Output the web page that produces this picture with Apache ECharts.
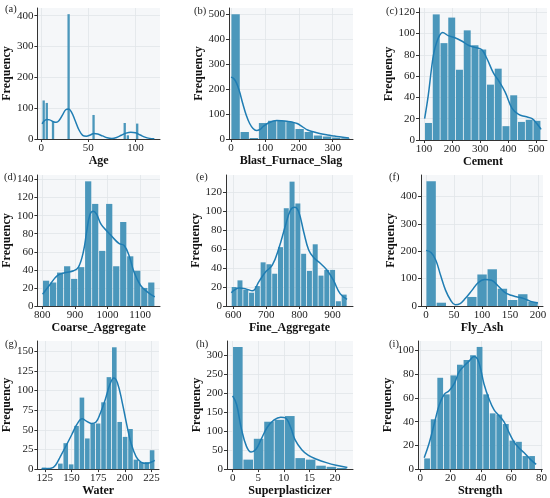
<!DOCTYPE html>
<html>
<head>
<meta charset="utf-8">
<script src="https://cdn.jsdelivr.net/npm/echarts@6/dist/echarts.min.js"></script>
<style>
  html, body { margin: 0; padding: 0; background: #fff; }
  #chart { width: 550px; height: 498px; }
</style>
</head>
<body>
<div id="chart"></div>
<script>
// histogram bins: first edge, bin width, counts; kde curves
const ageStart = 1, ageWidth = 119 / 36
const ageCounts = [125, 117, 0, 57, 0, 0, 0, 0, 405, 0, 0, 0, 0, 0, 0, 0, 78, 0, 0, 0, 0, 0, 0, 0, 0, 0, 52, 12, 0, 0, 50, 0, 0, 0, 0, 3]
const ageKdeX = [1, 3, 6, 9, 13, 16, 19, 23, 26, 29, 32, 36, 40, 44, 48, 52, 56, 60, 65, 70, 75, 80, 85, 90, 95, 100, 105, 110, 115, 120]
const ageKdeY = [49, 58, 63, 62, 56, 54, 60, 80, 95, 97, 88, 60, 30, 12, 9, 13, 18, 16, 10, 4, 2, 5, 12, 19, 22, 20, 13, 6, 2, 0.5]

const slagStart = 0, slagWidth = 27
const slagCounts = [500, 28, 4, 64, 73, 73, 68, 40, 28, 14, 10, 6, 3]
const slagKdeX = [0, 8, 16, 25, 35, 45, 55, 65, 75, 85, 95, 110, 125, 135, 150, 165, 180, 195, 210, 226, 245, 265, 285, 305, 325, 348]
const slagKdeY = [248, 242, 225, 190, 140, 95, 62, 42, 34, 38, 50, 64, 72, 74, 73, 71, 68, 62, 50, 36, 28, 21, 16, 12, 8, 4]

const cementStart = 102, cementWidth = 27.6
const cementCounts = [16, 118, 91, 115, 66, 103, 89, 85, 52, 67, 13, 42, 17, 19, 18]
const cementKdeX = [102, 115, 126, 135, 144, 155, 166, 186, 210, 234, 258, 281, 305, 323, 347, 365, 389, 413, 437, 461, 485, 503, 517]
const cementKdeY = [20, 42, 66, 82, 91, 98, 101, 98, 96, 93, 89, 87, 85, 77, 63, 56, 45, 30, 24, 22, 20, 15, 10]

const coarseStart = 801, coarseWidth = 21.5
const coarseCounts = [28, 26, 37, 44, 30, 43, 138, 113, 61, 113, 44, 93, 55, 39, 20, 26]
const coarseKdeX = [801, 822, 847, 872, 896, 911, 926, 936, 946, 956, 966, 981, 1001, 1021, 1036, 1051, 1066, 1081, 1101, 1121, 1145]
const coarseKdeY = [13, 23, 34, 37, 39, 43, 60, 82, 101, 105, 102, 90, 82, 74, 69, 67, 56, 38, 23, 16, 10]

const fineStart = 594, fineWidth = 17.5
const fineCounts = [20, 27, 17, 14, 21, 46, 44, 34, 62, 103, 131, 108, 55, 37, 65, 32, 38, 38, 5, 12]
const fineKdeX = [594, 618, 638, 658, 678, 698, 718, 738, 758, 773, 786, 798, 813, 828, 843, 863, 883, 903, 923, 944]
const fineKdeY = [14, 19, 18, 16, 26, 36, 43, 61, 85, 101, 104, 99, 78, 59, 51, 45, 38, 27, 13, 7]

const flyStart = 0, flyWidth = 18.2
const flyCounts = [455, 12, 0, 0, 33, 115, 134, 63, 22, 43, 15]
const flyKdeX = [0, 9, 17.5, 26, 35, 44, 52, 61, 70, 82, 93, 105, 117, 128, 140, 152, 163, 175, 187, 200]
const flyKdeY = [203, 195, 167, 112, 57, 21, 5, 9, 27, 57, 85, 97, 94, 75, 51, 39, 33, 27, 17, 11]

const waterStart = 121.8, waterWidth = 5.06
const waterCounts = [2, 0, 0, 7, 33, 6, 55, 91, 39, 58, 58, 85, 117, 155, 60, 41, 51, 12, 9, 9, 24]
const waterKdeX = [121.8, 126, 130.8, 135, 139.5, 145, 151, 155, 160, 164, 168.5, 173, 177, 181.5, 186, 189.6, 193, 197.5, 202, 206, 210.5, 215, 220.7, 225, 228]
const waterKdeY = [0, 0.5, 1, 5, 16, 30, 46, 57, 64, 61, 58, 60, 71, 88, 108, 116, 110, 85, 55, 32, 16, 9, 7, 9, 11]

const superStart = 0, superWidth = 2.03
const superCounts = [322, 25, 80, 125, 130, 140, 29, 25, 9, 6, 3]
const superKdeX = [0, 0.76, 1.7, 2.7, 3.6, 4.6, 5.5, 6.8, 8.1, 9.4, 10.3, 11.3, 12.2, 13.5, 14.8, 16.4, 18.3, 20.2, 22.4]
const superKdeY = [193, 171, 107, 60, 45, 53, 77, 111, 130, 137, 135, 111, 77, 51, 36, 26, 17, 10, 4]

const strengthStart = 2.33, strengthWidth = 4.33
const strengthCounts = [9, 42, 77, 63, 79, 88, 92, 96, 103, 63, 47, 46, 38, 24, 23, 11, 11]
const strengthKdeX = [2.6, 5.9, 9.2, 12.5, 15.8, 19, 22.4, 25.6, 28.9, 32.2, 35.5, 37.7, 39.9, 42, 45.4, 48.7, 52, 55.2, 58.5, 61.8, 65, 68.4, 72.8, 76.5]
const strengthKdeY = [9.5, 22, 38, 54, 63, 66, 72, 82, 87, 91, 95, 93, 84, 72, 59, 50, 45, 40, 31, 23, 18, 14, 8, 4]

// tick labels
const ageXTicks = [0, 50, 100], ageYTicks = [0, 100, 200, 300, 400]
const slagXTicks = [0, 100, 200, 300], slagYTicks = [0, 100, 200, 300, 400, 500]
const cementXTicks = [100, 200, 300, 400, 500], cementYTicks = [0, 20, 40, 60, 80, 100, 120]
const coarseXTicks = [800, 900, 1000, 1100], coarseYTicks = [0, 20, 40, 60, 80, 100, 120, 140]
const fineXTicks = [600, 700, 800, 900], fineYTicks = [0, 20, 40, 60, 80, 100, 120]
const flyXTicks = [0, 50, 100, 150, 200], flyYTicks = [0, 100, 200, 300, 400]
const waterXTicks = [125, 150, 175, 200, 225], waterYTicks = [0, 25, 50, 75, 100, 125, 150]
const superXTicks = [0, 5, 10, 15, 20], superYTicks = [0, 50, 100, 150, 200, 250, 300]
const strengthXTicks = [0, 20, 40, 60, 80], strengthYTicks = [0, 20, 40, 60, 80, 100]

const FONT = 'Liberation Serif'
const BAR = '#4b97bb'
const LINE = '#1f7db3'

// grid box [left, top, width, height], axis extents, name gaps
const panels = [
  { tag: '(a)', name: 'Age', start: ageStart, width: ageWidth, counts: ageCounts, kx: ageKdeX, ky: ageKdeY, xt: ageXTicks, yt: ageYTicks, xr: [-4, 126], ymax: 425, box: [35, 8, 125, 131], lab: [5, 4], gap: 19 },
  { tag: '(b)', name: 'Blast_Furnace_Slag', start: slagStart, width: slagWidth, counts: slagCounts, kx: slagKdeX, ky: slagKdeY, xt: slagXTicks, yt: slagYTicks, xr: [-6, 360], ymax: 525, box: [229, 8, 124, 131], lab: [194, 6], gap: 20 },
  { tag: '(c)', name: 'Cement', start: cementStart, width: cementWidth, counts: cementCounts, kx: cementKdeX, ky: cementKdeY, xt: cementXTicks, yt: cementYTicks, xr: [82, 538], ymax: 124, box: [419, 8, 128, 132], lab: [386, 6], gap: 18 },
  { tag: '(d)', name: 'Coarse_Aggregate', start: coarseStart, width: coarseWidth, counts: coarseCounts, kx: coarseKdeX, ky: coarseKdeY, xt: coarseXTicks, yt: coarseYTicks, xr: [785, 1161], ymax: 145, box: [35, 175, 125, 131], lab: [4, 172], gap: 19 },
  { tag: '(e)', name: 'Fine_Aggregate', start: fineStart, width: fineWidth, counts: fineCounts, kx: fineKdeX, ky: fineKdeY, xt: fineXTicks, yt: fineYTicks, xr: [578, 962], ymax: 138, box: [226, 175, 127, 131], lab: [196, 172], gap: 17 },
  { tag: '(f)', name: 'Fly_Ash', start: flyStart, width: flyWidth, counts: flyCounts, kx: flyKdeX, ky: flyKdeY, xt: flyXTicks, yt: flyYTicks, xr: [-9, 209], ymax: 478, box: [421, 175, 122, 131], lab: [389, 172], gap: 18 },
  { tag: '(g)', name: 'Water', start: waterStart, width: waterWidth, counts: waterCounts, kx: waterKdeX, ky: waterKdeY, xt: waterXTicks, yt: waterYTicks, xr: [118, 232], ymax: 163, box: [33, 341, 126, 132], lab: [5, 339], gap: 17 },
  { tag: '(h)', name: 'Superplasticizer', start: superStart, width: superWidth, counts: superCounts, kx: superKdeX, ky: superKdeY, xt: superXTicks, yt: superYTicks, xr: [-1.1, 23.5], ymax: 338, box: [227, 341, 126, 132], lab: [196, 339], gap: 18 },
  { tag: '(i)', name: 'Strength', start: strengthStart, width: strengthWidth, counts: strengthCounts, kx: strengthKdeX, ky: strengthKdeY, xt: strengthXTicks, yt: strengthYTicks, xr: [-1.5, 80.5], ymax: 108, box: [418, 341, 127, 132], lab: [389, 339], gap: 16 }
]

function renderBar(params, api) {
  const c = api.value(2)
  if (!c) return null
  const p0 = api.coord([api.value(0), 0])
  const p1 = api.coord([api.value(1), c])
  return {
    type: 'rect',
    shape: { x: p0[0] + 0.4, y: p1[1], width: p1[0] - p0[0] - 0.8, height: p0[1] - p1[1] },
    style: { fill: BAR }
  }
}

const plain = v => String(v)
const axisText = { fontFamily: FONT, fontSize: 11, color: '#222', formatter: plain }
const nameText = { fontFamily: FONT, fontSize: 12, fontWeight: 'bold', color: '#111' }
const axisLine = { show: true, onZero: false, lineStyle: { color: '#333', width: 1 } }
const split = { show: true, lineStyle: { color: '#e1e4e9', width: 0.8 } }

const option = { animation: false, grid: [], xAxis: [], yAxis: [], series: [], graphic: [] }

panels.forEach((p, k) => {
  option.grid.push({
    left: p.box[0], top: p.box[1], width: p.box[2], height: p.box[3],
    show: true, backgroundColor: '#f5f7f9', borderWidth: 0
  })
  option.xAxis.push({
    gridIndex: k, type: 'value', min: p.xr[0], max: p.xr[1],
    name: p.name, nameLocation: 'middle', nameGap: 12, nameTextStyle: nameText,
    axisLine: axisLine,
    axisTick: { show: true, length: 3, customValues: p.xt, lineStyle: { color: '#333' } },
    axisLabel: Object.assign({ customValues: p.xt, margin: 4 }, axisText),
    splitLine: split
  })
  option.yAxis.push({
    gridIndex: k, type: 'value', min: 0, max: p.ymax,
    name: 'Frequency', nameLocation: 'middle', nameGap: p.gap, nameTextStyle: nameText,
    axisLine: axisLine,
    axisTick: { show: true, length: 3, customValues: p.yt, lineStyle: { color: '#333' } },
    axisLabel: Object.assign({ customValues: p.yt, margin: 4 }, axisText),
    splitLine: split
  })
  option.series.push({
    type: 'custom', xAxisIndex: k, yAxisIndex: k,
    renderItem: renderBar,
    encode: { x: [0, 1], y: 2 },
    data: p.counts.map((c, i) => [p.start + i * p.width, p.start + (i + 1) * p.width, c])
  })
  option.series.push({
    type: 'line', xAxisIndex: k, yAxisIndex: k,
    data: p.kx.map((x, i) => [x, p.ky[i]]),
    smooth: 0.4, showSymbol: false, z: 3,
    lineStyle: { color: LINE, width: 1.5 }
  })
  option.graphic.push({
    type: 'text', left: p.lab[0], top: p.lab[1],
    style: { text: p.tag, font: '10.5px "Liberation Serif"', fill: '#222' }
  })
})

const chart = echarts.init(document.getElementById('chart'))
chart.setOption(option)
</script>
</body>
</html>
